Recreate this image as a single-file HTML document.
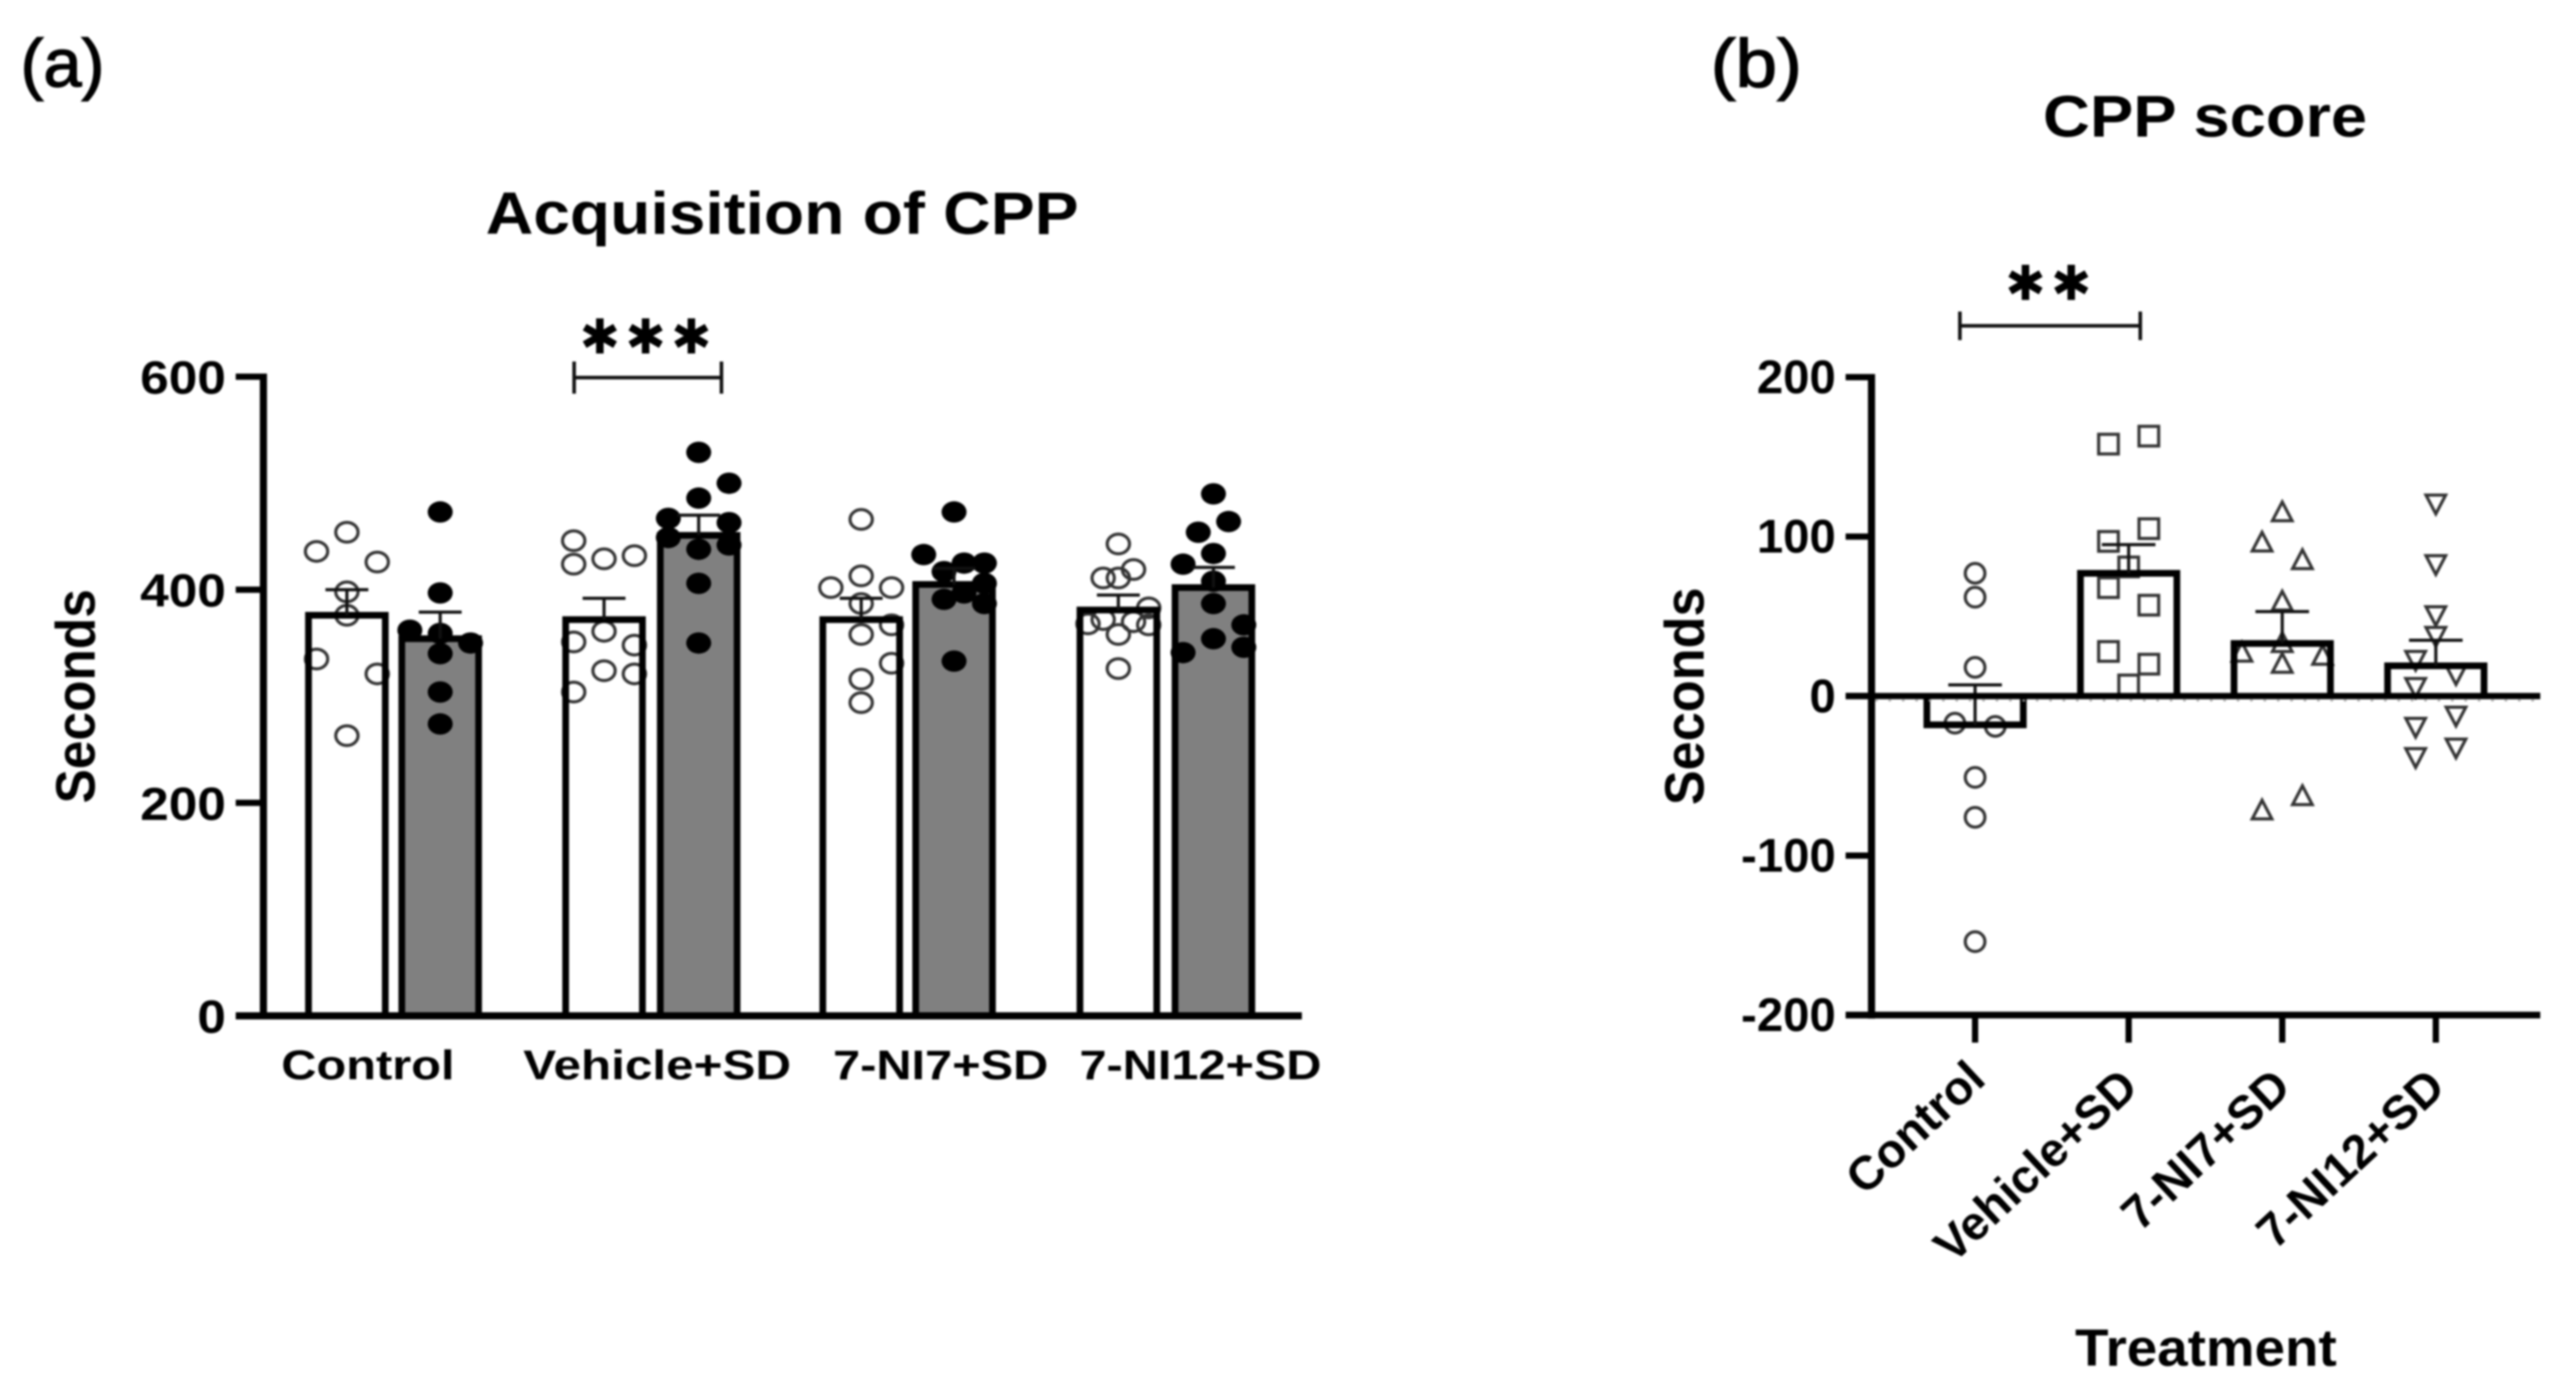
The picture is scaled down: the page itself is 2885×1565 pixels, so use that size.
<!DOCTYPE html>
<html lang="en">
<head>
<meta charset="utf-8">
<title>Acquisition of CPP and CPP score</title>
<style>
  html, body { margin: 0; padding: 0; background: #fff; }
  #figure { display: block; width: 2885px; height: 1565px; filter: blur(1.1px); font-family: "Liberation Sans", sans-serif; }
  text { fill: #000; font-family: "Liberation Sans", sans-serif; }
  .b { font-weight: bold; }
</style>
</head>
<body>
<svg id="figure" xmlns="http://www.w3.org/2000/svg" width="2885" height="1565" viewBox="0 0 2885 1565">
  <rect x="0" y="0" width="2885" height="1565" fill="#fff"/>

  <text x="23" y="97" font-size="76" textLength="94" lengthAdjust="spacingAndGlyphs" stroke="#000" stroke-width="1.5">(a)</text>
  <text x="1916" y="97" font-size="76" textLength="102" lengthAdjust="spacingAndGlyphs" stroke="#000" stroke-width="1.5">(b)</text>

  <text class="b" x="544" y="262" font-size="67" textLength="664" lengthAdjust="spacingAndGlyphs">Acquisition of CPP</text>
  <text class="b" x="2288" y="153" font-size="66" textLength="363" lengthAdjust="spacingAndGlyphs">CPP score</text>

  <text class="b" transform="translate(106 780) rotate(-90)" text-anchor="middle" font-size="62" textLength="240" lengthAdjust="spacingAndGlyphs">Seconds</text>
  <text class="b" transform="translate(1908 780) rotate(-90)" text-anchor="middle" font-size="62" textLength="244" lengthAdjust="spacingAndGlyphs">Seconds</text>
  <text class="b" x="2324" y="1530" font-size="58" textLength="293" lengthAdjust="spacingAndGlyphs">Treatment</text>

  <g id="panel-a"></g>
  <g id="panel-b"></g>

  <g>
    <path d="M643 423H808M643 405V441M808 405V441" fill="none" stroke="#111" stroke-width="4"/>
    <text class="b" x="726" y="396" text-anchor="middle" font-size="54" letter-spacing="6" style="font-family:'DejaVu Sans',sans-serif">✱✱✱</text>
  </g>
  <g>
    <path d="M2195 365H2397M2195 349V381M2397 349V381" fill="none" stroke="#111" stroke-width="4"/>
    <text class="b" x="2297" y="336" text-anchor="middle" font-size="54" letter-spacing="6" style="font-family:'DejaVu Sans',sans-serif">✱✱</text>
  </g>
</svg>

<script>
// ---------- Panel (a) data: Acquisition of CPP ----------
const acqTickLabels = [0, 200, 400, 600];
const acqCategories = ['Control', 'Vehicle+SD', '7-NI7+SD', '7-NI12+SD'];
const acqOpenMeans = [376, 372, 372, 381];
const acqOpenSem = [24, 20, 20, 14];
const acqFilledMeans = [354, 451, 405, 402];
const acqFilledSem = [25, 19, 15, 19];

// Individual animals, keyed by swarm column (column -1 = left of bar centre, 1 = right).
const acqOpenControl = { '0': [454, 398, 376, 263], '-1': [436, 335], '1': [426, 321] };
const acqOpenVehicle = { '0': [429, 361, 324], '-1': [446, 424, 351, 304], '1': [432, 348, 321] };
const acqOpenNI7 = { '0': [466, 413, 387, 358, 316, 294], '-1': [402], '1': [402, 367, 331] };
const acqOpenNI12 = { '0': [443, 411, 358, 326], '-0.5': [411, 372], '0.5': [419, 370], '-1': [368], '1': [383, 367] };
const acqFilledControl = { '0': [473, 397, 359, 340, 304, 274], '-1': [362], '1': [350] };
const acqFilledVehicle = { '0': [529, 486, 438, 406, 350], '-1': [467, 449], '1': [500, 463, 442] };
const acqFilledNI7 = { '0': [473, 333], '-1': [433], '-0.33': [417, 391], '0.33': [425, 397], '1': [425, 406, 387] };
const acqFilledNI12 = { '0': [490, 434, 408, 387, 354], '0.5': [464], '-0.5': [454], '-1': [424, 341], '1': [367, 346] };
const acqOpenPoints = [acqOpenControl, acqOpenVehicle, acqOpenNI7, acqOpenNI12];
const acqFilledPoints = [acqFilledControl, acqFilledVehicle, acqFilledNI7, acqFilledNI12];

// ---------- Panel (b) data: CPP score ----------
const scoreTickLabels = [-200, -100, 0, 100, 200];
const scoreCategories = ['Control', 'Vehicle+SD', '7-NI7+SD', '7-NI12+SD'];
const scoreMeans = [-18, 77, 33, 19];
const scoreSem = [25, 18, 20, 16];
const scoreMarkers = ['circle', 'square', 'triangle-up', 'triangle-down'];

const scoreControl = { '0': [77, 62, 18, -51, -76, -154], '-1': [-17], '1': [-19] };
const scoreVehicle = { '0': [81, 7], '-1': [158, 97, 68, 28], '1': [163, 105, 57, 20] };
const scoreNI7 = { '0': [115, 59, 33, 20], '-1': [96, -72], '1': [85, -63], '-2': [27], '2': [25] };
const scoreNI12 = { '0': [121, 83, 51, 38], '-1': [23, 6, -19, -38], '1': [14, -12, -32] };
const scorePoints = [scoreControl, scoreVehicle, scoreNI7, scoreNI12];

// ---------- Drawing ----------
const NS = 'http://www.w3.org/2000/svg';
const panelA = document.getElementById('panel-a');
const panelB = document.getElementById('panel-b');

function make(parent, tag, attrs, content) {
  const el = document.createElementNS(NS, tag);
  for (const k in attrs) el.setAttribute(k, attrs[k]);
  if (content !== undefined) el.textContent = content;
  parent.appendChild(el);
  return el;
}
function slug(s) { return String(s).toLowerCase().replace(/[^a-z0-9]+/g, '-'); }

// Axis functions
function yA(v) { return 1138 - (v / 600) * 716; }
function yB(v) { return 779.8 - (v / 200) * 357.3; }
const acqOpenX = [388.5, 676.5, 964.5, 1252.5];
const acqFilledX = [493, 782.5, 1068.5, 1359];
const scoreX = [2212, 2384, 2556, 2728];

// ---- Panel A ----
function drawAcqBar(cx, mean, sem, filled, points, name) {
  const g = make(panelA, 'g', {});
  
  

  const w = 86;
  const fill = make(g, 'rect', { x: cx - w / 2, y: yA(mean), width: w, height: yA(0) - yA(mean), fill: filled ? '#808080' : '#fff' });
  
  

  for (const col of Object.keys(points)) {
    for (const v of points[col]) {
      const pt = make(g, 'ellipse', {
        cx: cx + Number(col) * 34, cy: yA(v),
        rx: filled ? 14 : 12.5, ry: filled ? 12 : 11,
        fill: filled ? '#000' : 'none', stroke: filled ? 'none' : '#333', 'stroke-width': 3.5
      });
      
      
    }
  }

  const outline = make(g, 'path', {
    d: `M${cx - w / 2} ${yA(0)}V${yA(mean)}H${cx + w / 2}V${yA(0)}`,
    fill: 'none', stroke: '#000', 'stroke-width': 7.5
  });
  
  

  const top = yA(mean + sem);
  const err = make(g, 'path', {
    d: `M${cx} ${yA(mean)}V${top}M${cx - 24} ${top}H${cx + 24}`,
    fill: 'none', stroke: '#111', 'stroke-width': 3.5
  });
  
  
}

acqCategories.forEach((cat, i) => {
  drawAcqBar(acqOpenX[i], acqOpenMeans[i], acqOpenSem[i], false, acqOpenPoints[i], 'acq-' + slug(cat) + '-open');
  drawAcqBar(acqFilledX[i], acqFilledMeans[i], acqFilledSem[i], true, acqFilledPoints[i], 'acq-' + slug(cat) + '-filled');
});

const aYAxis = make(panelA, 'line', { x1: 295, x2: 295, y1: yA(600) - 3.5, y2: yA(0) + 4, stroke: '#000', 'stroke-width': 8 });


const aXAxis = make(panelA, 'line', { x1: 264, x2: 1458, y1: yA(0), y2: yA(0), stroke: '#000', 'stroke-width': 8 });



acqTickLabels.forEach(v => {
  const tick = make(panelA, 'line', { x1: 264, x2: 295, y1: yA(v), y2: yA(v), stroke: '#000', 'stroke-width': 7 });
  
  
  const digits = String(v).length;
  const label = make(panelA, 'text', {
    x: 253, y: yA(v) + 19, 'text-anchor': 'end', 'font-size': 52, 'font-weight': 'bold',
    textLength: digits * 32, lengthAdjust: 'spacingAndGlyphs'
  }, v);
  
  
});

const acqLabelStart = [315, 586, 933, 1209];
const acqLabelWidth = [194, 300, 241, 271];
acqCategories.forEach((cat, i) => {
  const label = make(panelA, 'text', {
    x: acqLabelStart[i], y: 1209, 'font-size': 46, 'font-weight': 'bold',
    textLength: acqLabelWidth[i], lengthAdjust: 'spacingAndGlyphs'
  }, cat);
  
  
});

// ---- Panel B ----
function drawMarker(g, type, x, y) {
  const common = { fill: 'none', stroke: '#333', 'stroke-width': 3.5, 'stroke-linejoin': 'miter' };
  let el;
  if (type === 'circle') {
    el = make(g, 'circle', Object.assign({ cx: x, cy: y, r: 11 }, common));
  } else if (type === 'square') {
    el = make(g, 'rect', Object.assign({ x: x - 11, y: y - 11, width: 22, height: 22 }, common));
  } else if (type === 'triangle-up') {
    el = make(g, 'polygon', Object.assign({ points: `${x},${y - 12} ${x + 11},${y + 9} ${x - 11},${y + 9}` }, common));
  } else {
    el = make(g, 'polygon', Object.assign({ points: `${x},${y + 12} ${x + 11},${y - 9} ${x - 11},${y - 9}` }, common));
  }
  
  
}

scoreCategories.forEach((cat, i) => {
  const cx = scoreX[i], w = 108, name = 'score-' + slug(cat);
  const g = make(panelB, 'g', {});
  
  

  const y0 = yB(0), ym = yB(scoreMeans[i]);
  const fill = make(g, 'rect', { x: cx - w / 2, y: Math.min(y0, ym), width: w, height: Math.abs(y0 - ym), fill: '#fff' });
  
  

  const points = scorePoints[i];
  for (const col of Object.keys(points)) {
    for (const v of points[col]) drawMarker(g, scoreMarkers[i], cx + Number(col) * 22.6, yB(v));
  }

  const outline = make(g, 'path', {
    d: `M${cx - w / 2} ${y0}V${ym}H${cx + w / 2}V${y0}`,
    fill: 'none', stroke: '#000', 'stroke-width': 7.5
  });
  
  

  const top = yB(scoreMeans[i] + scoreSem[i]);
  const err = make(g, 'path', {
    d: `M${cx} ${ym}V${top}M${cx - 30} ${top}H${cx + 30}`,
    fill: 'none', stroke: '#111', 'stroke-width': 3.5
  });
  
  

  const tick = make(panelB, 'line', { x1: cx, x2: cx, y1: yB(-200), y2: 1168, stroke: '#000', 'stroke-width': 7 });
  
  
});

const zeroLine = make(panelB, 'line', { x1: 2067, x2: 2845, y1: yB(0), y2: yB(0), stroke: '#000', 'stroke-width': 7 });


const zeroDots = make(panelB, 'line', { x1: 2100, x2: 2845, y1: yB(0) + 5, y2: yB(0) + 5, stroke: '#aaa', 'stroke-width': 2, 'stroke-dasharray': '3 12' });



const bYAxis = make(panelB, 'line', { x1: 2096, x2: 2096, y1: yB(200) - 3.5, y2: yB(-200) + 4, stroke: '#000', 'stroke-width': 8 });


const bXAxis = make(panelB, 'line', { x1: 2067, x2: 2845, y1: yB(-200), y2: yB(-200), stroke: '#000', 'stroke-width': 7.5 });



scoreTickLabels.forEach(v => {
  const tick = make(panelB, 'line', { x1: 2067, x2: 2096, y1: yB(v), y2: yB(v), stroke: '#000', 'stroke-width': 7 });
  
  
  const label = make(panelB, 'text', {
    x: 2056, y: yB(v) + 18, 'text-anchor': 'end', 'font-size': 53, 'font-weight': 'bold'
  }, v);
  
  
});

const scoreLabelEndX = [2226, 2397, 2568, 2741];
const scoreLabelEndY = [1212, 1221, 1221, 1221];
scoreCategories.forEach((cat, i) => {
  const label = make(panelB, 'text', {
    transform: `translate(${scoreLabelEndX[i]} ${scoreLabelEndY[i]}) rotate(-43)`,
    'text-anchor': 'end', 'font-size': 53, 'font-weight': 'bold'
  }, cat);
  
  
});
</script>
</body>
</html>
